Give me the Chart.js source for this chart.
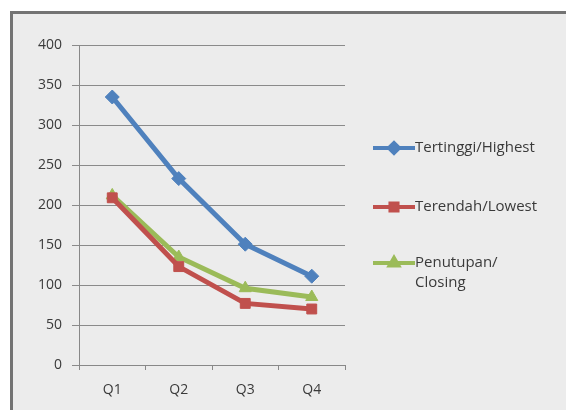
<!DOCTYPE html>
<html>
<head>
<meta charset="utf-8">
<script src="https://cdn.jsdelivr.net/npm/chart.js@4"></script>
<style>
html,body{margin:0;padding:0;background:#fff;}
#wrap{position:relative;width:566px;height:410px;overflow:hidden;}
#frame{position:absolute;left:10px;top:11px;width:600px;height:430px;border:3px solid #737373;background:#ececec;}
canvas{position:absolute;left:0;top:0;}
</style>
</head>
<body>
<div id="wrap">
<div id="frame"></div>
<canvas id="c" width="566" height="410"></canvas>
</div>
<script>
const categories = ['Q1','Q2','Q3','Q4'];
const highest = [335, 233, 151, 111];
const lowest  = [209, 123, 77, 70];
const closing = [212, 135, 96, 85];
const seriesNames = ['Tertinggi/Highest','Terendah/Lowest',['Penutupan/','Closing']];
const yTicks = [0,50,100,150,200,250,300,350,400];

const colors = ['#4f81bd','#c0504d','#9bbb59'];
const styles = ['rectRot','rect','triangle'];
const FONT = '"Open Sans", Lato, sans-serif';

const legendPlugin = {
  id:'sideLegend',
  afterDraw(chart){
    const ctx = chart.ctx;
    const ys = [148, 207, 263];
    chart.data.datasets.forEach((ds,i)=>{
      const y = ys[i];
      ctx.save();
      ctx.strokeStyle = ds.borderColor;
      ctx.lineWidth = 4;
      ctx.beginPath();
      ctx.moveTo(373,y);ctx.lineTo(415,y);ctx.stroke();
      ctx.fillStyle = ds.borderColor; ctx.strokeStyle = ds.borderColor;
      Chart.helpers.drawPoint(ctx,{pointStyle:ds.pointStyle,radius:5,borderWidth:1,rotation:0},394,y);
      ctx.fill();
      ctx.fillStyle = '#3a3a3a';
      ctx.font = '15px ' + FONT;
      ctx.textBaseline = 'middle';
      ctx.textAlign = 'left';
      const lines = Array.isArray(seriesNames[i]) ? seriesNames[i] : [seriesNames[i]];
      lines.forEach((t,k)=>ctx.fillText(t,415,y+k*20));
      ctx.restore();
    });
  }
};

new Chart(document.getElementById('c'),{
  type:'line',
  data:{
    labels:categories,
    datasets:[
      {label:'Tertinggi/Highest',data:highest,borderColor:colors[0],backgroundColor:colors[0],pointStyle:styles[0]},
      {label:'Terendah/Lowest',data:lowest,borderColor:colors[1],backgroundColor:colors[1],pointStyle:styles[1]},
      {label:'Penutupan/Closing',data:closing,borderColor:colors[2],backgroundColor:colors[2],pointStyle:styles[2]}
    ]
  },
  options:{
    responsive:false,
    animation:false,
    devicePixelRatio:1,
    layout:{padding:{left:0,right:221,top:45,bottom:0}},
    elements:{
      line:{borderWidth:5,tension:0,fill:false},
      point:{radius:7,borderWidth:1,hoverRadius:7}
    },
    plugins:{legend:{display:false},tooltip:{enabled:false}},
    scales:{
      x:{
        type:'category',
        offset:true,
        grid:{offset:true,drawOnChartArea:false,drawTicks:true,tickLength:5,color:'#888'},
        border:{color:'#888',width:1},
        ticks:{color:'#3a3a3a',font:{family:FONT,size:14},padding:12},
        afterFit(s){s.height=45;}
      },
      y:{
        min:0,max:400,
        afterBuildTicks(s){s.ticks = yTicks.map(v=>({value:v}));},
        grid:{color:'#8a8a8a',lineWidth:1,tickLength:7},
        border:{color:'#888',width:1},
        ticks:{color:'#3a3a3a',font:{family:FONT,size:14},padding:10},
        afterFit(s){s.width=79;}
      }
    }
  },
  plugins:[legendPlugin]
});
</script>
</body>
</html>
